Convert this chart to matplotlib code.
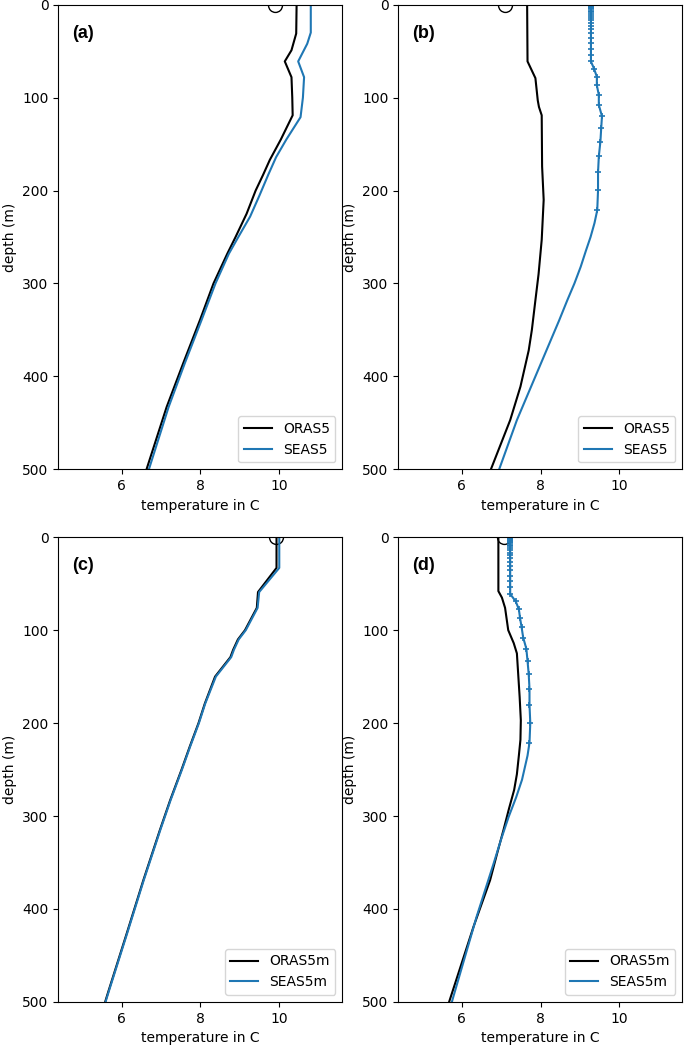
import numpy as np
import matplotlib
matplotlib.use('Agg')
from matplotlib import pyplot as plt

# --- panel (a): ORAS5 vs SEAS5 ---
a_oras_depth = [0, 31, 49, 61, 78, 100, 119, 145, 167, 183, 200, 225, 250, 268, 300, 339, 386, 433, 500]
a_oras_temp = [10.44, 10.43, 10.31, 10.14, 10.31, 10.33, 10.34, 10.04, 9.76, 9.59, 9.40, 9.17, 8.89, 8.68, 8.33, 7.99, 7.56, 7.14, 6.63]
a_seas_depth = [0, 30, 42, 61, 78, 100, 121, 145, 164, 183, 205, 228, 250, 268, 300, 339, 386, 433, 500]
a_seas_temp = [10.80, 10.80, 10.71, 10.48, 10.63, 10.60, 10.54, 10.18, 9.92, 9.72, 9.50, 9.26, 8.96, 8.72, 8.38, 8.03, 7.60, 7.19, 6.69]
a_obs = 9.89

# --- panel (b): ORAS5 vs SEAS5 ---
b_oras_depth = [0, 61, 79, 103, 110, 119, 174, 210, 253, 290, 318, 350, 372, 411, 447, 500]
b_oras_temp = [7.66, 7.67, 7.87, 7.93, 7.96, 8.03, 8.04, 8.08, 8.03, 7.95, 7.87, 7.78, 7.70, 7.49, 7.23, 6.74]
# model levels shown with markers
lev_depth = [0.5, 1.6, 2.7, 3.9, 5.1, 6.5, 8.1, 9.8, 11.8, 14.0, 16.5, 19.4, 22.8, 26.6,
             30.9, 35.7, 41.2, 47.2, 53.9, 61.1, 69.0, 77.6, 86.9, 97.0, 108.0, 120.0,
             133.1, 147.4, 163.2, 180.5, 199.8, 221.1]
b_seas_lev_temp = [9.28, 9.28, 9.28, 9.28, 9.28, 9.28, 9.28, 9.28, 9.28, 9.28, 9.28, 9.28, 9.28, 9.28,
                   9.28, 9.28, 9.28, 9.28, 9.28, 9.28, 9.36, 9.43, 9.43, 9.48, 9.48, 9.56,
                   9.54, 9.52, 9.48, 9.46, 9.46, 9.44]
b_seas_deep_depth = [235, 250, 265, 282, 300, 318, 340, 361, 404, 447, 500]
b_seas_deep_temp = [9.37, 9.27, 9.15, 9.02, 8.86, 8.68, 8.47, 8.26, 7.83, 7.40, 6.95]
b_obs = 7.09

# --- panel (c): ORAS5m vs SEAS5m ---
c_oras_depth = [0, 33, 59, 76, 100, 110, 121, 129, 150, 179, 200, 225, 250, 283, 315, 369, 426, 489, 500]
c_oras_temp = [9.93, 9.93, 9.46, 9.43, 9.13, 8.95, 8.83, 8.76, 8.37, 8.11, 7.95, 7.73, 7.52, 7.23, 6.97, 6.55, 6.13, 5.66, 5.58]
c_seas_depth = [0, 33, 59, 76, 100, 110, 121, 129, 150, 179, 200, 225, 250, 283, 315, 369, 426, 489, 500]
c_seas_temp = [10.0, 10.0, 9.49, 9.45, 9.15, 8.97, 8.85, 8.78, 8.39, 8.12, 7.96, 7.74, 7.53, 7.24, 6.98, 6.56, 6.14, 5.67, 5.59]
c_obs = 9.92

# --- panel (d): ORAS5m vs SEAS5m ---
d_oras_depth = [0, 58, 65, 76, 100, 114, 125, 172, 197, 218, 235, 255, 272, 292, 315, 340, 369, 419, 500]
d_oras_temp = [6.93, 6.93, 7.02, 7.10, 7.18, 7.32, 7.40, 7.47, 7.50, 7.49, 7.45, 7.40, 7.33, 7.20, 7.06, 6.90, 6.72, 6.30, 5.68]
d_seas_lev_temp = [7.23, 7.23, 7.23, 7.23, 7.23, 7.23, 7.23, 7.23, 7.23, 7.23, 7.23, 7.23, 7.23, 7.23,
                   7.23, 7.23, 7.23, 7.23, 7.23, 7.23, 7.37, 7.45, 7.48, 7.52, 7.56, 7.64,
                   7.67, 7.70, 7.72, 7.72, 7.74, 7.72]
d_seas_deep_depth = [235, 248, 261, 280, 301, 325, 351, 408, 494, 500]
d_seas_deep_temp = [7.67, 7.60, 7.53, 7.38, 7.19, 7.00, 6.81, 6.38, 5.79, 5.75]
d_obs = 7.08

blue = '#1f77b4'

fig = plt.figure(figsize=(6.85, 10.46), dpi=100)
lefts = [0.0851, 0.5815]
bottoms = [0.5513, 0.0422]
w, h = 0.4146, 0.4442

def setup(ax, tag, handles, labels):
    ax.set_xlim(4.39, 11.6)
    ax.set_ylim(500, 0)
    ax.set_xticks([6, 8, 10])
    ax.set_yticks([0, 100, 200, 300, 400, 500])
    ax.set_xlabel('temperature in C')
    ax.set_ylabel('depth (m)')
    ax.legend(handles, labels, loc='lower right')
    ax.text(0.05, 0.939, tag, transform=ax.transAxes, va='center', ha='left',
            fontsize=13, fontweight='bold', family='Liberation Sans')

def obs(ax, t):
    ln, = ax.plot([t], [0], 'o', mfc='none', mec='k', ms=10, mew=1.0, zorder=1)
    ln.set_clip_path(ax.patch)

# (a)
ax = fig.add_axes([lefts[0], bottoms[0], w, h])
obs(ax, a_obs)
lo, = ax.plot(a_oras_temp, a_oras_depth, color='k', lw=1.5)
ls, = ax.plot(a_seas_temp, a_seas_depth, color=blue, lw=1.5)
setup(ax, '(a)', [lo, ls], ['ORAS5', 'SEAS5'])

# (b)
ax = fig.add_axes([lefts[1], bottoms[0], w, h])
obs(ax, b_obs)
lo, = ax.plot(b_oras_temp, b_oras_depth, color='k', lw=1.5)
ls, = ax.plot(b_seas_lev_temp + b_seas_deep_temp, lev_depth + b_seas_deep_depth, color=blue, lw=1.5)
ax.plot(b_seas_lev_temp, lev_depth, '+', color=blue, ms=5, mew=1.2)
setup(ax, '(b)', [lo, ls], ['ORAS5', 'SEAS5'])

# (c)
ax = fig.add_axes([lefts[0], bottoms[1], w, h])
obs(ax, c_obs)
lo, = ax.plot(c_oras_temp, c_oras_depth, color='k', lw=1.5)
ls, = ax.plot(c_seas_temp, c_seas_depth, color=blue, lw=1.5)
setup(ax, '(c)', [lo, ls], ['ORAS5m', 'SEAS5m'])

# (d)
ax = fig.add_axes([lefts[1], bottoms[1], w, h])
obs(ax, d_obs)
lo, = ax.plot(d_oras_temp, d_oras_depth, color='k', lw=1.5)
ls, = ax.plot(d_seas_lev_temp + d_seas_deep_temp, lev_depth + d_seas_deep_depth, color=blue, lw=1.5)
ax.plot(d_seas_lev_temp, lev_depth, '+', color=blue, ms=5, mew=1.2)
setup(ax, '(d)', [lo, ls], ['ORAS5m', 'SEAS5m'])

fig.savefig('out.png', dpi=100)
